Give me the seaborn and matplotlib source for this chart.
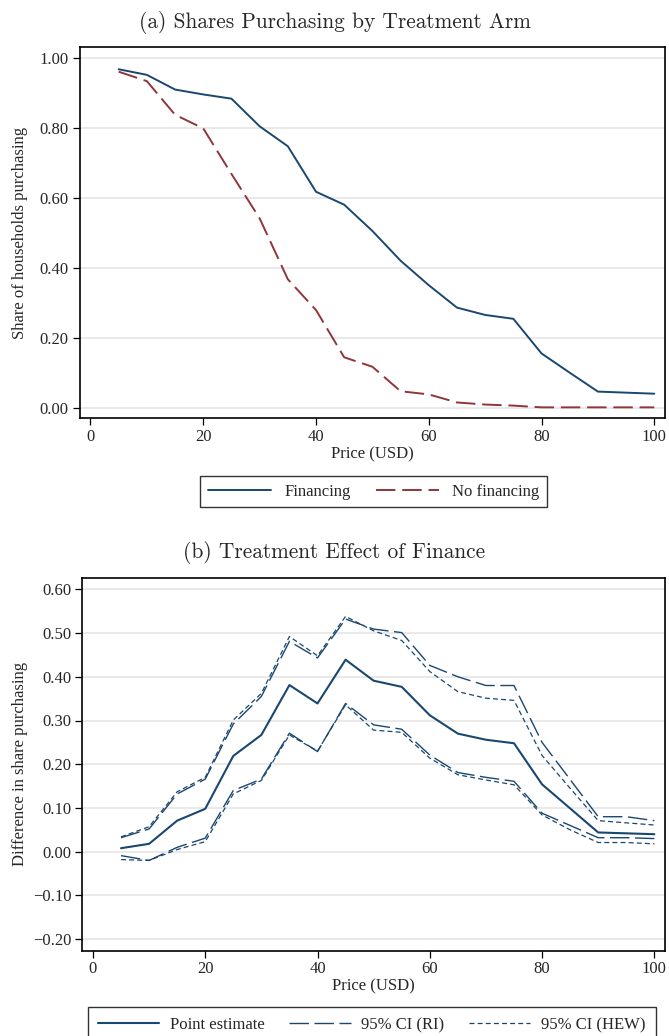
import numpy as np
import pandas as pd
import matplotlib
matplotlib.use("Agg")
import matplotlib.pyplot as plt
import seaborn as sns

# ---------------- data ----------------
price = [5, 10, 15, 20, 25, 30, 35, 40, 45, 50, 55, 60, 65, 70, 75, 80, 85, 90, 95, 100]

financing = [0.967, 0.951, 0.909, 0.895, 0.883, 0.804, 0.747, 0.617, 0.580, 0.505,
             0.420, 0.350, 0.286, 0.265, 0.254, 0.155, 0.100, 0.046, 0.043, 0.040]
no_financing = [0.960, 0.933, 0.837, 0.798, 0.668, 0.541, 0.367, 0.279, 0.144, 0.117,
                0.047, 0.038, 0.015, 0.009, 0.006, 0.001, 0.001, 0.001, 0.001, 0.001]

point_est = [0.008, 0.018, 0.071, 0.098, 0.219, 0.267, 0.381, 0.339, 0.439, 0.391,
             0.377, 0.312, 0.270, 0.256, 0.248, 0.154, 0.099, 0.044, 0.042, 0.040]
ri_upper = [0.032, 0.052, 0.132, 0.166, 0.292, 0.355, 0.481, 0.443, 0.532, 0.509,
            0.501, 0.426, 0.400, 0.380, 0.380, 0.250, 0.165, 0.080, 0.080, 0.071]
ri_lower = [-0.009, -0.020, 0.010, 0.031, 0.140, 0.166, 0.271, 0.229, 0.339, 0.290,
            0.280, 0.221, 0.181, 0.170, 0.161, 0.088, 0.060, 0.032, 0.032, 0.030]
hew_upper = [0.034, 0.057, 0.137, 0.170, 0.301, 0.362, 0.492, 0.448, 0.538, 0.505,
             0.483, 0.412, 0.366, 0.351, 0.346, 0.220, 0.145, 0.071, 0.066, 0.061]
hew_lower = [-0.018, -0.020, 0.005, 0.023, 0.132, 0.163, 0.267, 0.230, 0.336, 0.278,
             0.273, 0.214, 0.176, 0.164, 0.153, 0.084, 0.050, 0.021, 0.021, 0.018]

yticks_a = [0.0, 0.2, 0.4, 0.6, 0.8, 1.0]
yticks_b = [-0.2, -0.1, 0.0, 0.1, 0.2, 0.3, 0.4, 0.5, 0.6]
xticks = [0, 20, 40, 60, 80, 100]

# ---------------- style ----------------
sns.set_theme(style="white")
plt.rcParams["font.family"] = ["Liberation Serif", "DejaVu Serif"]
plt.rcParams["axes.unicode_minus"] = True

NAVY = "#1a476f"
MAROON = "#90353b"
GRID = "#e3e3e3"

W, H = 669, 1036
fig = plt.figure(figsize=(W / 100, H / 100), dpi=100)


def px_axes(left, top, right, bottom):
    return fig.add_axes([left / W, 1 - bottom / H, (right - left) / W, (bottom - top) / H])


def style_axes(ax, yticks, ylabel, left_px, right_px):
    ax.set_xlim(-1.95, 101.9)
    ax.set_xticks(xticks)
    ax.set_yticks(yticks)
    ax.set_yticklabels([f"{v:.2f}".replace("-", "\u2212") for v in yticks])
    ax.set_xticklabels([str(v) for v in xticks])
    ax.grid(axis="y", color=GRID, lw=1.1)
    ax.grid(axis="x", visible=False)
    ax.set_axisbelow(True)
    for s in ax.spines.values():
        s.set_color("black")
        s.set_linewidth(1.2)
        s.set_visible(True)
    ax.tick_params(axis="both", which="major", direction="out", length=4.8, width=0.9,
                   color="black", labelsize=12, pad=3, left=True, bottom=True)
    ax.set_xlabel("Price (USD)", fontsize=12, labelpad=1)
    ax.set_ylabel(ylabel, fontsize=12, va="center")
    # y-label centred at about x = 20 px in the figure
    ax.yaxis.set_label_coords((20 - left_px) / (right_px - left_px), 0.5)


# ---------------- panel (a) ----------------
df_a = pd.DataFrame({"price": price, "fin": financing, "nofin": no_financing})
ax1 = px_axes(79.5, 46.7, 665, 418.3)
sns.lineplot(data=df_a, x="price", y="fin", color=NAVY, lw=1.4, ax=ax1, label="Financing")
sns.lineplot(data=df_a, x="price", y="nofin", color=MAROON, lw=1.4, ax=ax1, label="No financing")
ax1.lines[1].set_dashes([10, 3.5])
style_axes(ax1, yticks_a, "Share of households purchasing", 79.5, 665)
ax1.set_ylim(-(418.3 - 407.7) / 350, (407.7 - 46.7) / 350)
ax1.get_legend().remove()
h1, l1 = ax1.get_legend_handles_labels()
fig.text(0.5, 1 - 23 / H, "(a) Shares Purchasing by Treatment Arm", family="cmr10",
         fontsize=15.4, ha="center", va="center")
leg1 = fig.legend(h1, l1, loc="center", bbox_to_anchor=(373.5 / W, 1 - 491.5 / H),
                  ncol=2, frameon=True, fancybox=False, edgecolor="black", fontsize=12,
                  handlelength=3.8, handletextpad=0.8, columnspacing=1.5,
                  borderpad=0.45, borderaxespad=0)
leg1.get_frame().set_linewidth(1.0)

# ---------------- panel (b) ----------------
df_b = pd.DataFrame({"price": price, "pe": point_est, "riu": ri_upper, "ril": ri_lower,
                     "hewu": hew_upper, "hewl": hew_lower})
ax2 = px_axes(82, 578.3, 665, 950.5)
sns.lineplot(data=df_b, x="price", y="pe", color=NAVY, lw=1.5, ax=ax2, label="Point estimate")
sns.lineplot(data=df_b, x="price", y="riu", color=NAVY, lw=1.0, ax=ax2, label="95% CI (RI)")
sns.lineplot(data=df_b, x="price", y="ril", color=NAVY, lw=1.0, ax=ax2, label="_nolegend_")
sns.lineplot(data=df_b, x="price", y="hewu", color=NAVY, lw=0.9, ax=ax2, label="95% CI (HEW)")
sns.lineplot(data=df_b, x="price", y="hewl", color=NAVY, lw=0.9, ax=ax2, label="_nolegend_")
for ln in ax2.lines[1:3]:
    ln.set_dashes([14, 4])
for ln in ax2.lines[3:5]:
    ln.set_dashes([4, 2.5])
y0 = 851.7
ppu = (851.7 - 589.3) / 0.6
ax2.get_legend().remove()
style_axes(ax2, yticks_b, "Difference in share purchasing", 82, 665)
ax2.set_ylim(-(950.5 - y0) / ppu, (y0 - 578.3) / ppu)
h2, l2 = ax2.get_legend_handles_labels()
fig.text(0.5, 1 - 552 / H, "(b) Treatment Effect of Finance", family="cmr10",
         fontsize=15.4, ha="center", va="center")
leg2 = fig.legend(h2, l2, loc="upper left", bbox_to_anchor=(87.5 / W, 1 - 1007.3 / H),
                  ncol=3, frameon=True, fancybox=False, edgecolor="black", fontsize=12,
                  handlelength=3.7, handletextpad=0.65, columnspacing=1.45,
                  borderpad=0.6, borderaxespad=0)
leg2.get_frame().set_linewidth(1.0)

fig.savefig("out.png", dpi=100)
